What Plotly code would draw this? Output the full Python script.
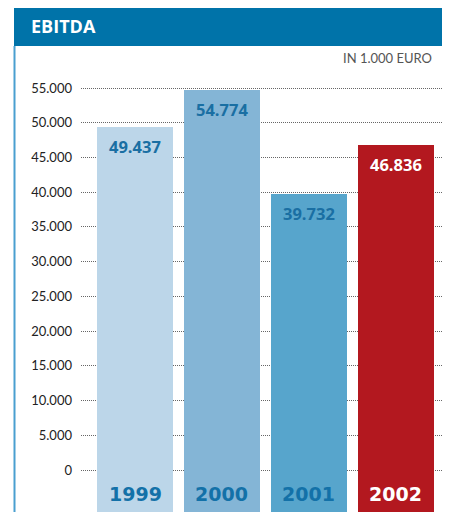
import plotly.graph_objects as go

years = ["1999", "2000", "2001", "2002"]
ebitda = [49437, 54774, 39732, 46836]
bar_colors = ["#bcd6e9", "#84b5d6", "#57a5cc", "#b3181f"]
value_colors = ["#1a6fa3", "#1a6fa3", "#1a6fa3", "#ffffff"]
year_colors = ["#1371a8", "#1371a8", "#1371a8", "#ffffff"]
tick_vals = list(range(0, 55001, 5000))
tick_text = [f"{v:,}".replace(",", ".") for v in tick_vals]

BASE = -7000  # bars extend below zero to the bottom edge
xs = list(range(len(years)))

OFF = 8  # page body margin
FW, FH = 450 - OFF, 512 - OFF

fig = go.Figure()
fig.add_trace(go.Bar(
    x=xs,
    y=[v - BASE for v in ebitda],
    base=BASE,
    width=0.874,
    marker=dict(color=bar_colors, line=dict(width=0)),
    hoverinfo="skip",
))

annotations = []
for i, (yr, v) in enumerate(zip(years, ebitda)):
    annotations.append(dict(
        x=i, y=v, xref="x", yref="y", yanchor="top", yshift=-6,
        text=f"<b>{v:,}</b>".replace(",", "."), showarrow=False,
        font=dict(family="Open Sans", size=16.5, color=value_colors[i]),
    ))
    annotations.append(dict(
        x=i, y=-3455, xref="x", yref="y", yanchor="middle",
        text=f"<b>{yr}</b>", showarrow=False,
        font=dict(family="DejaVu Sans", size=19, color=year_colors[i]),
    ))

L, R, T, B = 81 - OFF, 444 - OFF, 50 - OFF, 512 - OFF
W = R - L
H = B - T
def px_x(p):
    return (p - OFF - L) / W
def px_y(p):
    return (B - (p - OFF)) / H

annotations.append(dict(
    x=px_x(434), y=px_y(58), xref="paper", yref="paper",
    xanchor="right", yanchor="middle", text="IN 1.000 EURO", showarrow=False,
    font=dict(family="Lato", size=13, color="#555555"),
))
annotations.append(dict(
    x=px_x(29), y=px_y(26), xref="paper", yref="paper",
    xanchor="left", yanchor="middle", text="<b>EBITDA</b>", showarrow=False,
    font=dict(family="Open Sans", size=18, color="#ffffff"),
))

shapes = [
    dict(type="rect", xref="paper", yref="paper",
         x0=px_x(14), x1=px_x(445), y0=px_y(46), y1=px_y(5),
         fillcolor="#0073a9", line=dict(width=0), layer="above"),
    dict(type="line", xref="paper", yref="paper",
         x0=px_x(14.5), x1=px_x(14.5), y0=px_y(46), y1=px_y(512),
         line=dict(color="#4a9fd0", width=2)),
    dict(type="line", xref="paper", yref="paper",
         x0=px_x(444.5), x1=px_x(444.5), y0=px_y(46), y1=px_y(512),
         line=dict(color="#4a9fd0", width=2)),
]

fig.update_layout(
    width=FW, height=FH,
    margin=dict(l=L, r=FW - R, t=T, b=0),
    paper_bgcolor="white", plot_bgcolor="white",
    showlegend=False,
    annotations=annotations,
    shapes=shapes,
    xaxis=dict(range=[-0.6207, 3.552], showgrid=False, zeroline=False,
               showticklabels=False, fixedrange=True),
    yaxis=dict(range=[-6047, 60471], tickvals=tick_vals, ticktext=tick_text,
               showgrid=True, gridcolor="#666666", griddash="1px,1px", gridwidth=1,
               zeroline=False, ticks="", ticklabelstandoff=8,
               tickfont=dict(family="Lato", size=13, color="#222222")),
    bargap=0,
)

fig.write_html("out.html")
